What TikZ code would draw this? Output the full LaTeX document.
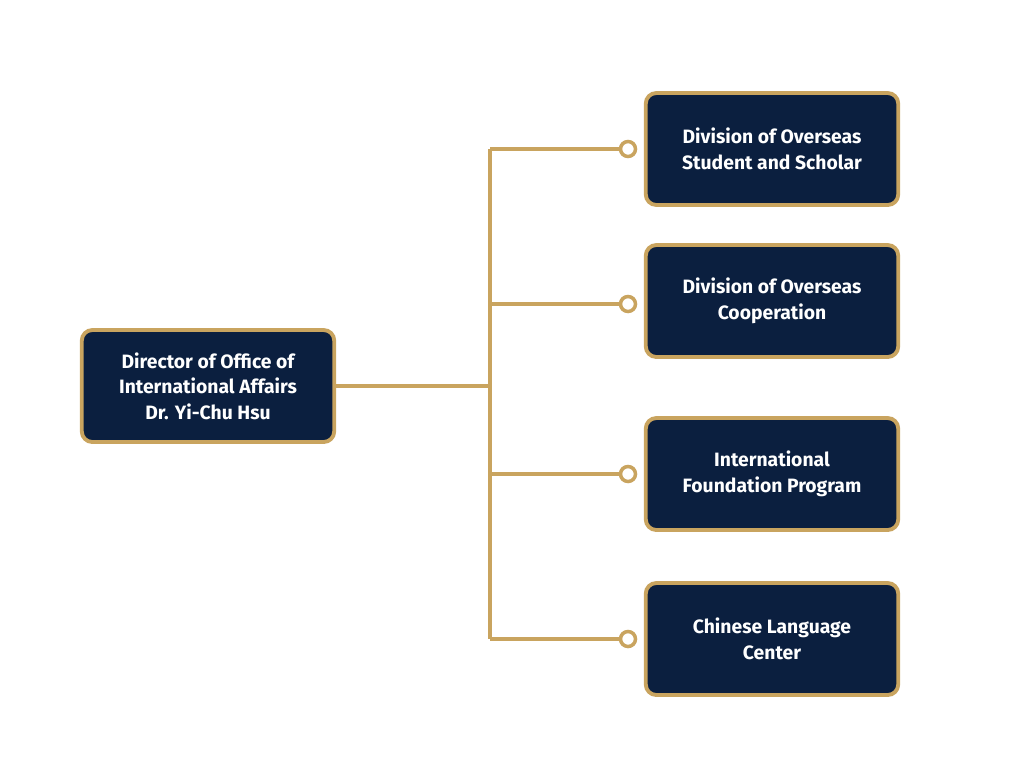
\documentclass[tikz,border=0pt]{standalone}
\usepackage{fontspec}
\setmainfont{Fira Sans}
\usepackage{tikz}
\usetikzlibrary{positioning}
\definecolor{navy}{RGB}{11,31,63}
\definecolor{gold}{RGB}{201,164,95}

\begin{document}
\begin{tikzpicture}[x=0.02cm, y=-0.02cm,
    box/.style={draw=gold, line width=2.2pt, fill=navy, rounded corners=6pt,
        minimum width=5.05cm, minimum height=2.24cm, align=center,
        text=white, font=\fontsize{11}{14.5}\selectfont\bfseries},
    link/.style={gold, line width=2pt},
    knob/.style={circle, draw=gold, line width=2pt, fill=white, minimum size=0.3cm, inner sep=0pt}]

    % Cadre
    \useasboundingbox (0,0) rectangle (1024,768);

    % Directeur
    \node[box] (dir) at (208,386) {Director of Office of\\International Affairs\\Dr. Yi-Chu Hsu};

    % Divisions
    \node[box] (div1) at (772,149) {Division of Overseas\\Student and Scholar};
    \node[box] (div2) at (772,301) {Division of Overseas\\Cooperation};
    \node[box] (div3) at (772,474) {International\\Foundation Program};
    \node[box] (div4) at (772,639) {Chinese Language\\Center};

    % Tronc
    \coordinate (top) at (490,149);
    \coordinate (bot) at (490,639);
    \coordinate (mid) at (490,386);
    \draw[link] (top) -- (bot);
    \draw[link] (dir) -- (mid);

    % Branches
    \foreach \d/\y in {div1/149, div2/304, div3/474, div4/639} {
        \coordinate (b-\d) at (490,\y);
        \node[knob] (k-\d) at (628,\y) {};
        \draw[link] (b-\d) -- (k-\d);
    }

\end{tikzpicture}
\end{document}
